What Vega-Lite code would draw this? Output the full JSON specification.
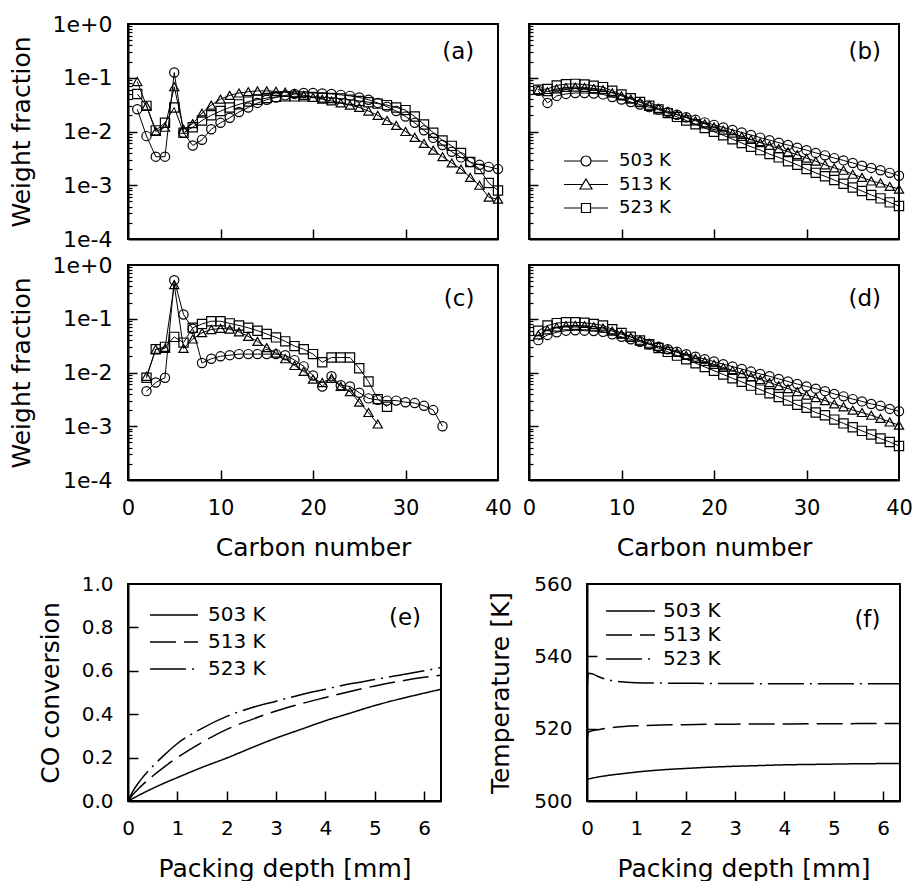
{
"$schema": "https://vega.github.io/schema/vega-lite/v6.json",
"padding": {"left": 8, "top": 12, "right": 5, "bottom": 5},
"datasets": {
"wf": [
{"p":"a","n":1,"503 K":0.026,"513 K":0.085,"523 K":0.05},
{"p":"a","n":2,"503 K":0.0082,"513 K":0.03,"523 K":0.03},
{"p":"a","n":3,"503 K":0.0034,"513 K":0.01,"523 K":0.0105},
{"p":"a","n":4,"503 K":0.0034,"513 K":0.012,"523 K":0.0145},
{"p":"a","n":5,"503 K":0.125,"513 K":0.068,"523 K":0.028},
{"p":"a","n":6,"503 K":0.0095,"513 K":0.011,"523 K":0.0095},
{"p":"a","n":7,"503 K":0.0055,"513 K":0.014,"523 K":0.012},
{"p":"a","n":8,"503 K":0.007,"513 K":0.022,"523 K":0.016},
{"p":"a","n":9,"503 K":0.011,"513 K":0.031,"523 K":0.02},
{"p":"a","n":10,"503 K":0.0145,"513 K":0.04,"523 K":0.024},
{"p":"a","n":11,"503 K":0.018,"513 K":0.047,"523 K":0.028},
{"p":"a","n":12,"503 K":0.023,"513 K":0.052,"523 K":0.032},
{"p":"a","n":13,"503 K":0.028,"513 K":0.055,"523 K":0.036},
{"p":"a","n":14,"503 K":0.034,"513 K":0.057,"523 K":0.039},
{"p":"a","n":15,"503 K":0.039,"513 K":0.057,"523 K":0.042},
{"p":"a","n":16,"503 K":0.043,"513 K":0.056,"523 K":0.044},
{"p":"a","n":17,"503 K":0.047,"513 K":0.054,"523 K":0.045},
{"p":"a","n":18,"503 K":0.05,"513 K":0.051,"523 K":0.045},
{"p":"a","n":19,"503 K":0.052,"513 K":0.047,"523 K":0.045},
{"p":"a","n":20,"503 K":0.052,"513 K":0.043,"523 K":0.044},
{"p":"a","n":21,"503 K":0.051,"513 K":0.04,"523 K":0.043},
{"p":"a","n":22,"503 K":0.05,"513 K":0.037,"523 K":0.042},
{"p":"a","n":23,"503 K":0.048,"513 K":0.034,"523 K":0.041},
{"p":"a","n":24,"503 K":0.046,"513 K":0.031,"523 K":0.039},
{"p":"a","n":25,"503 K":0.043,"513 K":0.028,"523 K":0.037},
{"p":"a","n":26,"503 K":0.039,"513 K":0.024,"523 K":0.035},
{"p":"a","n":27,"503 K":0.034,"513 K":0.02,"523 K":0.033},
{"p":"a","n":28,"503 K":0.029,"513 K":0.016,"523 K":0.031},
{"p":"a","n":29,"503 K":0.024,"513 K":0.013,"523 K":0.028},
{"p":"a","n":30,"503 K":0.019,"513 K":0.01,"523 K":0.025},
{"p":"a","n":31,"503 K":0.0145,"513 K":0.0078,"523 K":0.019},
{"p":"a","n":32,"503 K":0.0105,"513 K":0.006,"523 K":0.0135},
{"p":"a","n":33,"503 K":0.0076,"513 K":0.0045,"523 K":0.0095},
{"p":"a","n":34,"503 K":0.0056,"513 K":0.0034,"523 K":0.0068},
{"p":"a","n":35,"503 K":0.0042,"513 K":0.0026,"523 K":0.0054},
{"p":"a","n":36,"503 K":0.0033,"513 K":0.002,"523 K":0.004},
{"p":"a","n":37,"503 K":0.0027,"513 K":0.0014,"523 K":0.0027},
{"p":"a","n":38,"503 K":0.0024,"513 K":0.001,"523 K":0.002},
{"p":"a","n":39,"503 K":0.0022,"513 K":0.0006,"523 K":0.0011},
{"p":"a","n":40,"503 K":0.002,"513 K":0.00055,"523 K":0.0008},
{"p":"b","n":1,"503 K":0.057,"513 K":0.06,"523 K":0.06},
{"p":"b","n":2,"503 K":0.034,"513 K":0.055,"523 K":0.062},
{"p":"b","n":3,"503 K":0.046,"513 K":0.062,"523 K":0.072},
{"p":"b","n":4,"503 K":0.05,"513 K":0.066,"523 K":0.076},
{"p":"b","n":5,"503 K":0.052,"513 K":0.067,"523 K":0.077},
{"p":"b","n":6,"503 K":0.052,"513 K":0.066,"523 K":0.075},
{"p":"b","n":7,"503 K":0.051,"513 K":0.063,"523 K":0.071},
{"p":"b","n":8,"503 K":0.049,"513 K":0.06,"523 K":0.067},
{"p":"b","n":9,"503 K":0.0439,"513 K":0.0525,"523 K":0.0571},
{"p":"b","n":10,"503 K":0.0394,"513 K":0.046,"523 K":0.0487},
{"p":"b","n":11,"503 K":0.0354,"513 K":0.0402,"523 K":0.0415},
{"p":"b","n":12,"503 K":0.0317,"513 K":0.0352,"523 K":0.0354},
{"p":"b","n":13,"503 K":0.0284,"513 K":0.0308,"523 K":0.0302},
{"p":"b","n":14,"503 K":0.0255,"513 K":0.027,"523 K":0.0258},
{"p":"b","n":15,"503 K":0.0229,"513 K":0.0236,"523 K":0.022},
{"p":"b","n":16,"503 K":0.0205,"513 K":0.0207,"523 K":0.0187},
{"p":"b","n":17,"503 K":0.0184,"513 K":0.0181,"523 K":0.016},
{"p":"b","n":18,"503 K":0.0165,"513 K":0.0158,"523 K":0.0136},
{"p":"b","n":19,"503 K":0.0148,"513 K":0.0139,"523 K":0.0116},
{"p":"b","n":20,"503 K":0.0133,"513 K":0.0121,"523 K":0.0099},
{"p":"b","n":21,"503 K":0.0119,"513 K":0.0106,"523 K":0.0085},
{"p":"b","n":22,"503 K":0.0107,"513 K":0.0093,"523 K":0.0072},
{"p":"b","n":23,"503 K":0.0096,"513 K":0.0081,"523 K":0.0061},
{"p":"b","n":24,"503 K":0.0086,"513 K":0.0071,"523 K":0.0052},
{"p":"b","n":25,"503 K":0.0077,"513 K":0.0062,"523 K":0.0045},
{"p":"b","n":26,"503 K":0.0069,"513 K":0.0055,"523 K":0.0038},
{"p":"b","n":27,"503 K":0.0062,"513 K":0.0048,"523 K":0.0033},
{"p":"b","n":28,"503 K":0.0056,"513 K":0.0042,"523 K":0.0028},
{"p":"b","n":29,"503 K":0.005,"513 K":0.0037,"523 K":0.0024},
{"p":"b","n":30,"503 K":0.0045,"513 K":0.0032,"523 K":0.002},
{"p":"b","n":31,"503 K":0.004,"513 K":0.0028,"523 K":0.0017},
{"p":"b","n":32,"503 K":0.0036,"513 K":0.0024,"523 K":0.00147},
{"p":"b","n":33,"503 K":0.0032,"513 K":0.0021,"523 K":0.00125},
{"p":"b","n":34,"503 K":0.0029,"513 K":0.0019,"523 K":0.00107},
{"p":"b","n":35,"503 K":0.0026,"513 K":0.0016,"523 K":0.00091},
{"p":"b","n":36,"503 K":0.0023,"513 K":0.0014,"523 K":0.00078},
{"p":"b","n":37,"503 K":0.0021,"513 K":0.0012,"523 K":0.00066},
{"p":"b","n":38,"503 K":0.0019,"513 K":0.0011,"523 K":0.00057},
{"p":"b","n":39,"503 K":0.0017,"513 K":0.00095,"523 K":0.00048},
{"p":"b","n":40,"503 K":0.0015,"513 K":0.00085,"523 K":0.00041},
{"p":"c","n":2,"503 K":0.0045,"513 K":0.0085,"523 K":0.008},
{"p":"c","n":3,"503 K":0.0065,"513 K":0.027,"523 K":0.027},
{"p":"c","n":4,"503 K":0.008,"513 K":0.028,"523 K":0.03},
{"p":"c","n":5,"503 K":0.52,"513 K":0.43,"523 K":0.046},
{"p":"c","n":6,"503 K":0.12,"513 K":0.028,"523 K":0.036},
{"p":"c","n":7,"503 K":0.065,"513 K":0.042,"523 K":0.068},
{"p":"c","n":8,"503 K":0.015,"513 K":0.055,"523 K":0.08},
{"p":"c","n":9,"503 K":0.018,"513 K":0.063,"523 K":0.09},
{"p":"c","n":10,"503 K":0.02,"513 K":0.066,"523 K":0.09},
{"p":"c","n":11,"503 K":0.021,"513 K":0.064,"523 K":0.082},
{"p":"c","n":12,"503 K":0.022,"513 K":0.057,"523 K":0.075},
{"p":"c","n":13,"503 K":0.022,"513 K":0.047,"523 K":0.068},
{"p":"c","n":14,"503 K":0.022,"513 K":0.038,"523 K":0.06},
{"p":"c","n":15,"503 K":0.022,"513 K":0.029,"523 K":0.052},
{"p":"c","n":16,"503 K":0.022,"513 K":0.023,"523 K":0.045},
{"p":"c","n":17,"503 K":0.021,"513 K":0.018,"523 K":0.038},
{"p":"c","n":18,"503 K":0.017,"513 K":0.0135,"523 K":0.031},
{"p":"c","n":19,"503 K":0.013,"513 K":0.0105,"523 K":0.027},
{"p":"c","n":20,"503 K":0.0088,"513 K":0.0075,"523 K":0.022},
{"p":"c","n":21,"503 K":0.0055,"513 K":0.0065,"523 K":0.0155},
{"p":"c","n":22,"503 K":0.0085,"513 K":0.0078,"523 K":0.019},
{"p":"c","n":23,"503 K":0.0058,"513 K":0.0055,"523 K":0.019},
{"p":"c","n":24,"503 K":0.0055,"513 K":0.0044,"523 K":0.019},
{"p":"c","n":25,"503 K":0.0042,"513 K":0.0028,"523 K":0.012},
{"p":"c","n":26,"503 K":0.0033,"513 K":0.0018,"523 K":0.0068},
{"p":"c","n":27,"503 K":0.0031,"513 K":0.0011,"523 K":0.0032},
{"p":"c","n":28,"503 K":0.003,"523 K":0.0023},
{"p":"c","n":29,"503 K":0.003},
{"p":"c","n":30,"503 K":0.0028},
{"p":"c","n":31,"503 K":0.0027},
{"p":"c","n":32,"503 K":0.0024},
{"p":"c","n":33,"503 K":0.002},
{"p":"c","n":34,"503 K":0.001},
{"p":"d","n":1,"503 K":0.04,"513 K":0.05,"523 K":0.06},
{"p":"d","n":2,"503 K":0.05,"513 K":0.062,"523 K":0.075},
{"p":"d","n":3,"503 K":0.056,"513 K":0.07,"523 K":0.083},
{"p":"d","n":4,"503 K":0.06,"513 K":0.074,"523 K":0.086},
{"p":"d","n":5,"503 K":0.061,"513 K":0.075,"523 K":0.086},
{"p":"d","n":6,"503 K":0.06,"513 K":0.074,"523 K":0.084},
{"p":"d","n":7,"503 K":0.059,"513 K":0.071,"523 K":0.08},
{"p":"d","n":8,"503 K":0.057,"513 K":0.067,"523 K":0.075},
{"p":"d","n":9,"503 K":0.0513,"513 K":0.0588,"523 K":0.0638},
{"p":"d","n":10,"503 K":0.0461,"513 K":0.0517,"523 K":0.0543},
{"p":"d","n":11,"503 K":0.0414,"513 K":0.0454,"523 K":0.0462},
{"p":"d","n":12,"503 K":0.0373,"513 K":0.0398,"523 K":0.0393},
{"p":"d","n":13,"503 K":0.0335,"513 K":0.035,"523 K":0.0335},
{"p":"d","n":14,"503 K":0.0301,"513 K":0.0307,"523 K":0.0285},
{"p":"d","n":15,"503 K":0.0271,"513 K":0.027,"523 K":0.0242},
{"p":"d","n":16,"503 K":0.0244,"513 K":0.0237,"523 K":0.0206},
{"p":"d","n":17,"503 K":0.0219,"513 K":0.0208,"523 K":0.0176},
{"p":"d","n":18,"503 K":0.0197,"513 K":0.0183,"523 K":0.0149},
{"p":"d","n":19,"503 K":0.0177,"513 K":0.016,"523 K":0.0127},
{"p":"d","n":20,"503 K":0.016,"513 K":0.0141,"523 K":0.0108},
{"p":"d","n":21,"503 K":0.0143,"513 K":0.0124,"523 K":0.0092},
{"p":"d","n":22,"503 K":0.0129,"513 K":0.0109,"523 K":0.0078},
{"p":"d","n":23,"503 K":0.0116,"513 K":0.0095,"523 K":0.0067},
{"p":"d","n":24,"503 K":0.0104,"513 K":0.0084,"523 K":0.0057},
{"p":"d","n":25,"503 K":0.0094,"513 K":0.0074,"523 K":0.0048},
{"p":"d","n":26,"503 K":0.0085,"513 K":0.0065,"523 K":0.0041},
{"p":"d","n":27,"503 K":0.0076,"513 K":0.0057,"523 K":0.0035},
{"p":"d","n":28,"503 K":0.0068,"513 K":0.005,"523 K":0.003},
{"p":"d","n":29,"503 K":0.0061,"513 K":0.0044,"523 K":0.0025},
{"p":"d","n":30,"503 K":0.0055,"513 K":0.0038,"523 K":0.0022},
{"p":"d","n":31,"503 K":0.005,"513 K":0.0034,"523 K":0.0018},
{"p":"d","n":32,"503 K":0.0045,"513 K":0.003,"523 K":0.0016},
{"p":"d","n":33,"503 K":0.004,"513 K":0.0026,"523 K":0.00133},
{"p":"d","n":34,"503 K":0.0036,"513 K":0.0023,"523 K":0.00113},
{"p":"d","n":35,"503 K":0.0032,"513 K":0.002,"523 K":0.00096},
{"p":"d","n":36,"503 K":0.0029,"513 K":0.0018,"523 K":0.00082},
{"p":"d","n":37,"503 K":0.0026,"513 K":0.0016,"523 K":0.0007},
{"p":"d","n":38,"503 K":0.0024,"513 K":0.0014,"523 K":0.00059},
{"p":"d","n":39,"503 K":0.0021,"513 K":0.0012,"523 K":0.00051},
{"p":"d","n":40,"503 K":0.0019,"513 K":0.00105,"523 K":0.00043}
],
"ef": [
{"p":"e","x":0,"503 K":0,"513 K":0,"523 K":0},
{"p":"e","x":0.1,"503 K":0.012,"513 K":0.03,"523 K":0.045},
{"p":"e","x":0.25,"503 K":0.03,"513 K":0.065,"523 K":0.095},
{"p":"e","x":0.5,"503 K":0.058,"513 K":0.115,"523 K":0.16},
{"p":"e","x":0.75,"503 K":0.084,"513 K":0.16,"523 K":0.215},
{"p":"e","x":1,"503 K":0.108,"513 K":0.2,"523 K":0.265},
{"p":"e","x":1.5,"503 K":0.155,"513 K":0.27,"523 K":0.335},
{"p":"e","x":2,"503 K":0.198,"513 K":0.33,"523 K":0.39},
{"p":"e","x":2.5,"503 K":0.245,"513 K":0.375,"523 K":0.43},
{"p":"e","x":3,"503 K":0.29,"513 K":0.415,"523 K":0.46},
{"p":"e","x":3.5,"503 K":0.33,"513 K":0.448,"523 K":0.49},
{"p":"e","x":4,"503 K":0.37,"513 K":0.477,"523 K":0.515},
{"p":"e","x":4.5,"503 K":0.405,"513 K":0.505,"523 K":0.54},
{"p":"e","x":5,"503 K":0.44,"513 K":0.53,"523 K":0.56},
{"p":"e","x":5.5,"503 K":0.47,"513 K":0.552,"523 K":0.58},
{"p":"e","x":6,"503 K":0.497,"513 K":0.57,"523 K":0.6},
{"p":"e","x":6.34,"503 K":0.515,"513 K":0.58,"523 K":0.615},
{"p":"f","x":0,"503 K":506.0,"513 K":516.5,"523 K":530.0},
{"p":"f","x":0.03,"503 K":506.1,"513 K":519.0,"523 K":535.3},
{"p":"f","x":0.1,"503 K":506.3,"513 K":519.4,"523 K":535.2},
{"p":"f","x":0.25,"503 K":506.7,"513 K":519.8,"523 K":534.3},
{"p":"f","x":0.5,"503 K":507.2,"513 K":520.3,"523 K":533.3},
{"p":"f","x":0.75,"503 K":507.6,"513 K":520.6,"523 K":532.9},
{"p":"f","x":1,"503 K":508.0,"513 K":520.8,"523 K":532.7},
{"p":"f","x":1.5,"503 K":508.6,"513 K":521.0,"523 K":532.6},
{"p":"f","x":2,"503 K":509.0,"513 K":521.1,"523 K":532.55},
{"p":"f","x":2.5,"503 K":509.35,"513 K":521.2,"523 K":532.5},
{"p":"f","x":3,"503 K":509.6,"513 K":521.25,"523 K":532.5},
{"p":"f","x":3.5,"503 K":509.8,"513 K":521.3,"523 K":532.45},
{"p":"f","x":4,"503 K":510.0,"513 K":521.3,"523 K":532.45},
{"p":"f","x":4.5,"503 K":510.1,"513 K":521.35,"523 K":532.4},
{"p":"f","x":5,"503 K":510.2,"513 K":521.35,"523 K":532.4},
{"p":"f","x":5.5,"503 K":510.3,"513 K":521.4,"523 K":532.4},
{"p":"f","x":6,"503 K":510.35,"513 K":521.4,"523 K":532.4},
{"p":"f","x":6.34,"503 K":510.4,"513 K":521.4,"523 K":532.4}
]
},
"config": {
  "font": "DejaVu Sans",
  "view": {"stroke": "black", "strokeWidth": 2},
  "axis": {"grid": false, "domainColor": "black", "domainWidth": 2, "labelColor": "black", "titleColor": "black", "titleFontWeight": "normal", "labelFlush": false, "labelOverlap": false, "labelFont": "DejaVu Sans", "titleFont": "DejaVu Sans"},
  "legend": {"labelFont": "DejaVu Sans", "labelColor": "black"},
  "text": {"font": "DejaVu Sans"}
},
"spacing": 12,
"resolve": {"scale": {"shape": "independent", "strokeDash": "independent"}, "legend": {"shape": "independent", "strokeDash": "independent"}},
"vconcat": [
{
"columns": 2, "bounds": "flush", "spacing": {"row": 26, "column": 31},
"resolve": {"scale": {"shape": "independent"}, "legend": {"shape": "independent"}},
"concat": [
{
 "width": 370, "height": 215,
 "resolve": {"axis": {"x": "independent", "y": "independent"}},
 "layer": [
  {"data": {"name": "wf"}, "transform": [{"filter": "datum.p === 'a'"}, {"fold": ["503 K","513 K","523 K"], "as": ["T","v"]}, {"filter": "isValid(datum.v)"}],
   "mark": {"type": "line", "color": "black", "strokeWidth": 1},
   "encoding": {
    "x": {"field": "n", "type": "quantitative", "scale": {"domain": [0, 40], "nice": false, "zero": false}, "axis": {"title": null, "labels": false, "ticks": false, "values": [0, 40]}},
    "y": {"field": "v", "type": "quantitative", "scale": {"type": "log", "domain": [0.0001, 1], "nice": false}, "axis": {"title": "Weight fraction", "titleFontSize": 25, "titlePadding": 18, "labelFontSize": 22, "labelPadding": 16, "ticks": false, "values": [0.0001, 0.001, 0.01, 0.1, 1], "labelExpr": "datum.value > 0.5 ? '1e+0' : '1e' + round(log(datum.value)/LN10)"}},
    "detail": {"field": "T"}}},
  {"data": {"name": "wf"}, "transform": [{"filter": "datum.p === 'a'"}, {"fold": ["503 K","513 K","523 K"], "as": ["T","v"]}, {"filter": "isValid(datum.v)"}],
   "mark": {"type": "point", "filled": false, "color": "black", "size": 85, "strokeWidth": 1.2, "opacity": 1},
   "encoding": {
    "x": {"field": "n", "type": "quantitative", "scale": {"domain": [0, 40], "nice": false, "zero": false}, "axis": {"orient": "top", "offset": -215, "values": [10, 20, 30], "ticks": true, "tickSize": 10, "tickColor": "black", "tickWidth": 1.5, "labels": false, "domain": false, "title": null, "zindex": 1}},
    "y": {"field": "v", "type": "quantitative", "scale": {"type": "log", "domain": [0.0001, 1], "nice": false}, "axis": {"orient": "right", "offset": -370, "values": [0.001, 0.01, 0.1], "ticks": true, "tickSize": 9, "tickColor": "black", "tickWidth": 1.5, "labels": false, "domain": false, "title": null, "zindex": 1}},
    "shape": {"field": "T", "type": "nominal", "scale": {"domain": ["503 K","513 K","523 K"], "range": ["circle","triangle-up","square"]}, "legend": null}}},
  {"data": {"values": [{}]}, "mark": {"type": "text", "fontSize": 23, "align": "center", "baseline": "middle", "color": "black"},
   "encoding": {"x": {"datum": 35.7, "axis": null}, "y": {"datum": 0.3, "scale": {"type": "log", "domain": [0.0001, 1], "nice": false}, "axis": {"orient": "right", "offset": -370, "values": [0.0002,0.0003,0.0004,0.0005,0.0006,0.0007,0.0008,0.0009,0.002,0.003,0.004,0.005,0.006,0.007,0.008,0.009,0.02,0.03,0.04,0.05,0.06,0.07,0.08,0.09,0.2,0.3,0.4,0.5,0.6,0.7,0.8,0.9], "ticks": true, "tickSize": 4, "tickColor": "black", "tickWidth": 1.2, "labels": false, "domain": false, "title": null, "zindex": 1}}, "text": {"value": "(a)"}}}
 ]
},
{
 "width": 370, "height": 215,
 "resolve": {"axis": {"x": "independent", "y": "independent"}, "scale": {"shape": "independent"}, "legend": {"shape": "independent"}},
 "layer": [
  {"data": {"name": "wf"}, "transform": [{"filter": "datum.p === 'b'"}, {"fold": ["503 K","513 K","523 K"], "as": ["T","v"]}, {"filter": "isValid(datum.v)"}],
   "mark": {"type": "line", "color": "black", "strokeWidth": 1},
   "encoding": {
    "x": {"field": "n", "type": "quantitative", "scale": {"domain": [0, 40], "nice": false, "zero": false}, "axis": {"title": null, "labels": false, "ticks": false, "values": [0, 40]}},
    "y": {"field": "v", "type": "quantitative", "scale": {"type": "log", "domain": [0.0001, 1], "nice": false}, "axis": {"title": null, "labels": false, "ticks": false, "values": [0.0001, 1]}},
    "detail": {"field": "T"}}},
  {"data": {"name": "wf"}, "transform": [{"filter": "datum.p === 'b'"}, {"fold": ["503 K","513 K","523 K"], "as": ["T","v"]}, {"filter": "isValid(datum.v)"}],
   "mark": {"type": "point", "filled": false, "color": "black", "size": 85, "strokeWidth": 1.2, "opacity": 1},
   "encoding": {
    "x": {"field": "n", "type": "quantitative", "scale": {"domain": [0, 40], "nice": false, "zero": false}, "axis": {"orient": "top", "offset": -215, "values": [10, 20, 30], "ticks": true, "tickSize": 10, "tickColor": "black", "tickWidth": 1.5, "labels": false, "domain": false, "title": null, "zindex": 1}},
    "y": {"field": "v", "type": "quantitative", "scale": {"type": "log", "domain": [0.0001, 1], "nice": false}, "axis": {"orient": "right", "offset": -370, "values": [0.001, 0.01, 0.1], "ticks": true, "tickSize": 9, "tickColor": "black", "tickWidth": 1.5, "labels": false, "domain": false, "title": null, "zindex": 1}},
    "shape": {"field": "T", "type": "nominal", "scale": {"domain": ["503 K","513 K","523 K"], "range": ["circle","triangle-up","square"]}, "legend": null}}},
  {"data": {"values": [{}]}, "mark": {"type": "text", "fontSize": 23, "align": "center", "baseline": "middle", "color": "black"},
   "encoding": {"x": {"datum": 36.3, "axis": null}, "y": {"datum": 0.3, "scale": {"type": "log", "domain": [0.0001, 1], "nice": false}, "axis": {"orient": "right", "offset": -370, "values": [0.0002,0.0003,0.0004,0.0005,0.0006,0.0007,0.0008,0.0009,0.002,0.003,0.004,0.005,0.006,0.007,0.008,0.009,0.02,0.03,0.04,0.05,0.06,0.07,0.08,0.09,0.2,0.3,0.4,0.5,0.6,0.7,0.8,0.9], "ticks": true, "tickSize": 4, "tickColor": "black", "tickWidth": 1.2, "labels": false, "domain": false, "title": null, "zindex": 1}}, "text": {"value": "(b)"}}},
  {"data": {"values": []}, "mark": {"type": "point", "filled": false, "color": "black", "size": 100, "strokeWidth": 1.2, "opacity": 1},
   "encoding": {"shape": {"field": "T", "type": "nominal",
     "scale": {"domain": ["503 K","513 K","523 K"], "range": ["M0.8,0H4.2M6.2,0H9.6M6.2,0A1,1,0,1,1,4.2,0A1,1,0,1,1,6.2,0", "M0.8,0H4.54M5.86,0H9.6M5.2,-1.1L6.4,0.9L4,0.9Z", "M0.8,0H4.3M6.1,0H9.6M4.3,-0.9H6.1V0.9H4.3Z"]},
     "legend": {"orient": "bottom-left", "offset": 22, "title": null, "padding": 0, "labelFontSize": 18, "labelColor": "black", "labelOffset": 50, "symbolStrokeWidth": 1.2, "symbolStrokeColor": "black", "symbolFillColor": "transparent", "rowPadding": 5.5}}}}
 ]
},
{
 "width": 370, "height": 215,
 "resolve": {"axis": {"x": "independent", "y": "independent"}},
 "layer": [
  {"data": {"name": "wf"}, "transform": [{"filter": "datum.p === 'c'"}, {"fold": ["503 K","513 K","523 K"], "as": ["T","v"]}, {"filter": "isValid(datum.v)"}],
   "mark": {"type": "line", "color": "black", "strokeWidth": 1},
   "encoding": {
    "x": {"field": "n", "type": "quantitative", "scale": {"domain": [0, 40], "nice": false, "zero": false}, "axis": {"title": "Carbon number", "titleFontSize": 25, "titlePadding": 17, "labelFontSize": 21, "labelPadding": 17, "ticks": false, "values": [0, 10, 20, 30, 40]}},
    "y": {"field": "v", "type": "quantitative", "scale": {"type": "log", "domain": [0.0001, 1], "nice": false}, "axis": {"title": "Weight fraction", "titleFontSize": 25, "titlePadding": 18, "labelFontSize": 22, "labelPadding": 16, "ticks": false, "values": [0.0001, 0.001, 0.01, 0.1, 1], "labelExpr": "datum.value > 0.5 ? '1e+0' : '1e' + round(log(datum.value)/LN10)"}},
    "detail": {"field": "T"}}},
  {"data": {"name": "wf"}, "transform": [{"filter": "datum.p === 'c'"}, {"fold": ["503 K","513 K","523 K"], "as": ["T","v"]}, {"filter": "isValid(datum.v)"}],
   "mark": {"type": "point", "filled": false, "color": "black", "size": 85, "strokeWidth": 1.2, "opacity": 1},
   "encoding": {
    "x": {"field": "n", "type": "quantitative", "scale": {"domain": [0, 40], "nice": false, "zero": false}, "axis": {"orient": "top", "offset": -215, "values": [10, 20, 30], "ticks": true, "tickSize": 10, "tickColor": "black", "tickWidth": 1.5, "labels": false, "domain": false, "title": null, "zindex": 1}},
    "y": {"field": "v", "type": "quantitative", "scale": {"type": "log", "domain": [0.0001, 1], "nice": false}, "axis": {"orient": "right", "offset": -370, "values": [0.001, 0.01, 0.1], "ticks": true, "tickSize": 9, "tickColor": "black", "tickWidth": 1.5, "labels": false, "domain": false, "title": null, "zindex": 1}},
    "shape": {"field": "T", "type": "nominal", "scale": {"domain": ["503 K","513 K","523 K"], "range": ["circle","triangle-up","square"]}, "legend": null}}},
  {"data": {"values": [{}]}, "mark": {"type": "text", "fontSize": 23, "align": "center", "baseline": "middle", "color": "black"},
   "encoding": {"x": {"datum": 35.8, "axis": null}, "y": {"datum": 0.233, "scale": {"type": "log", "domain": [0.0001, 1], "nice": false}, "axis": {"orient": "right", "offset": -370, "values": [0.0002,0.0003,0.0004,0.0005,0.0006,0.0007,0.0008,0.0009,0.002,0.003,0.004,0.005,0.006,0.007,0.008,0.009,0.02,0.03,0.04,0.05,0.06,0.07,0.08,0.09,0.2,0.3,0.4,0.5,0.6,0.7,0.8,0.9], "ticks": true, "tickSize": 4, "tickColor": "black", "tickWidth": 1.2, "labels": false, "domain": false, "title": null, "zindex": 1}}, "text": {"value": "(c)"}}}
 ]
},
{
 "width": 370, "height": 215,
 "resolve": {"axis": {"x": "independent", "y": "independent"}},
 "layer": [
  {"data": {"name": "wf"}, "transform": [{"filter": "datum.p === 'd'"}, {"fold": ["503 K","513 K","523 K"], "as": ["T","v"]}, {"filter": "isValid(datum.v)"}],
   "mark": {"type": "line", "color": "black", "strokeWidth": 1},
   "encoding": {
    "x": {"field": "n", "type": "quantitative", "scale": {"domain": [0, 40], "nice": false, "zero": false}, "axis": {"title": "Carbon number", "titleFontSize": 25, "titlePadding": 17, "labelFontSize": 21, "labelPadding": 17, "ticks": false, "values": [0, 10, 20, 30, 40]}},
    "y": {"field": "v", "type": "quantitative", "scale": {"type": "log", "domain": [0.0001, 1], "nice": false}, "axis": {"title": null, "labels": false, "ticks": false, "values": [0.0001, 1]}},
    "detail": {"field": "T"}}},
  {"data": {"name": "wf"}, "transform": [{"filter": "datum.p === 'd'"}, {"fold": ["503 K","513 K","523 K"], "as": ["T","v"]}, {"filter": "isValid(datum.v)"}],
   "mark": {"type": "point", "filled": false, "color": "black", "size": 85, "strokeWidth": 1.2, "opacity": 1},
   "encoding": {
    "x": {"field": "n", "type": "quantitative", "scale": {"domain": [0, 40], "nice": false, "zero": false}, "axis": {"orient": "top", "offset": -215, "values": [10, 20, 30], "ticks": true, "tickSize": 10, "tickColor": "black", "tickWidth": 1.5, "labels": false, "domain": false, "title": null, "zindex": 1}},
    "y": {"field": "v", "type": "quantitative", "scale": {"type": "log", "domain": [0.0001, 1], "nice": false}, "axis": {"orient": "right", "offset": -370, "values": [0.001, 0.01, 0.1], "ticks": true, "tickSize": 9, "tickColor": "black", "tickWidth": 1.5, "labels": false, "domain": false, "title": null, "zindex": 1}},
    "shape": {"field": "T", "type": "nominal", "scale": {"domain": ["503 K","513 K","523 K"], "range": ["circle","triangle-up","square"]}, "legend": null}}},
  {"data": {"values": [{}]}, "mark": {"type": "text", "fontSize": 23, "align": "center", "baseline": "middle", "color": "black"},
   "encoding": {"x": {"datum": 36.3, "axis": null}, "y": {"datum": 0.233, "scale": {"type": "log", "domain": [0.0001, 1], "nice": false}, "axis": {"orient": "right", "offset": -370, "values": [0.0002,0.0003,0.0004,0.0005,0.0006,0.0007,0.0008,0.0009,0.002,0.003,0.004,0.005,0.006,0.007,0.008,0.009,0.02,0.03,0.04,0.05,0.06,0.07,0.08,0.09,0.2,0.3,0.4,0.5,0.6,0.7,0.8,0.9], "ticks": true, "tickSize": 4, "tickColor": "black", "tickWidth": 1.2, "labels": false, "domain": false, "title": null, "zindex": 1}}, "text": {"value": "(d)"}}}
 ]
}
]
},
{
"bounds": "flush", "spacing": 146,
"resolve": {"scale": {"strokeDash": "independent"}, "legend": {"strokeDash": "independent"}},
"hconcat": [
{
 "width": 313, "height": 217,
 "resolve": {"axis": {"x": "independent", "y": "independent"}},
 "layer": [
  {"data": {"name": "ef"}, "transform": [{"filter": "datum.p === 'e'"}, {"fold": ["503 K","513 K","523 K"], "as": ["T","v"]}],
   "mark": {"type": "line", "color": "black", "strokeWidth": 1.5, "interpolate": "monotone"},
   "encoding": {
    "x": {"field": "x", "type": "quantitative", "scale": {"domain": [0, 6.34], "nice": false, "zero": false}, "axis": {"title": "Packing depth [mm]", "titleFontSize": 25, "titlePadding": 18, "labelFontSize": 20, "labelPadding": 17, "ticks": false, "values": [0,1,2,3,4,5,6]}},
    "y": {"field": "v", "type": "quantitative", "scale": {"domain": [0, 1], "nice": false}, "axis": {"title": "CO conversion", "titleFontSize": 25, "titlePadding": 18, "labelFontSize": 20, "labelPadding": 15, "ticks": false, "values": [0,0.2,0.4,0.6,0.8,1], "format": ".1f"}},
    "strokeDash": {"field": "T", "type": "nominal", "scale": {"domain": ["503 K","513 K","523 K"], "range": [[1,0],[26,8],[36,6,2,6]]},
     "legend": {"orient": "top-left", "offset": 20, "title": null, "padding": 0, "labelFontSize": 20, "labelColor": "black", "labelOffset": 38, "symbolType": "M-0.9,0H3.9", "symbolSize": 400, "symbolStrokeWidth": 1.5, "symbolStrokeColor": "black", "symbolFillColor": "transparent", "rowPadding": 6}}}},
  {"data": {"values": [{}]}, "mark": {"type": "text", "fontSize": 23, "align": "center", "baseline": "middle", "color": "black"},
   "encoding": {
    "x": {"datum": 5.61, "scale": {"domain": [0, 6.34], "nice": false, "zero": false}, "axis": {"orient": "top", "offset": -217, "values": [1,2,3,4,5,6], "ticks": true, "tickSize": 10, "tickColor": "black", "tickWidth": 1.5, "labels": false, "domain": false, "title": null, "zindex": 1}},
    "y": {"datum": 0.843, "scale": {"domain": [0, 1], "nice": false}, "axis": {"orient": "right", "offset": -313, "values": [0.2,0.4,0.6,0.8], "ticks": true, "tickSize": 10, "tickColor": "black", "tickWidth": 1.5, "labels": false, "domain": false, "title": null, "zindex": 1}},
    "text": {"value": "(e)"}}}
 ]
},
{
 "width": 313, "height": 217,
 "resolve": {"axis": {"x": "independent", "y": "independent"}},
 "layer": [
  {"data": {"name": "ef"}, "transform": [{"filter": "datum.p === 'f'"}, {"fold": ["503 K","513 K","523 K"], "as": ["T","v"]}],
   "mark": {"type": "line", "color": "black", "strokeWidth": 1.5, "interpolate": "monotone"},
   "encoding": {
    "x": {"field": "x", "type": "quantitative", "scale": {"domain": [0, 6.34], "nice": false, "zero": false}, "axis": {"title": "Packing depth [mm]", "titleFontSize": 25, "titlePadding": 18, "labelFontSize": 20, "labelPadding": 17, "ticks": false, "values": [0,1,2,3,4,5,6]}},
    "y": {"field": "v", "type": "quantitative", "scale": {"domain": [500, 560], "nice": false, "zero": false}, "axis": {"title": "Temperature [K]", "titleFontSize": 25, "titlePadding": 20, "labelFontSize": 20, "labelPadding": 15, "ticks": false, "values": [500,520,540,560]}},
    "strokeDash": {"field": "T", "type": "nominal", "scale": {"domain": ["503 K","513 K","523 K"], "range": [[1,0],[26,8],[36,6,2,6]]},
     "legend": {"orient": "top-left", "offset": 16, "title": null, "padding": 0, "labelFontSize": 20, "labelColor": "black", "labelOffset": 38, "symbolType": "M-0.8,0H4.1", "symbolSize": 400, "symbolStrokeWidth": 1.5, "symbolStrokeColor": "black", "symbolFillColor": "transparent", "rowPadding": 3}}}},
  {"data": {"values": [{}]}, "mark": {"type": "text", "fontSize": 23, "align": "center", "baseline": "middle", "color": "black"},
   "encoding": {
    "x": {"datum": 5.68, "scale": {"domain": [0, 6.34], "nice": false, "zero": false}, "axis": {"orient": "top", "offset": -217, "values": [1,2,3,4,5,6], "ticks": true, "tickSize": 10, "tickColor": "black", "tickWidth": 1.5, "labels": false, "domain": false, "title": null, "zindex": 1}},
    "y": {"datum": 550, "scale": {"domain": [500, 560], "nice": false, "zero": false}, "axis": {"orient": "right", "offset": -313, "values": [520,540], "ticks": true, "tickSize": 10, "tickColor": "black", "tickWidth": 1.5, "labels": false, "domain": false, "title": null, "zindex": 1}},
    "text": {"value": "(f)"}}}
 ]
}
]
}
]
}
